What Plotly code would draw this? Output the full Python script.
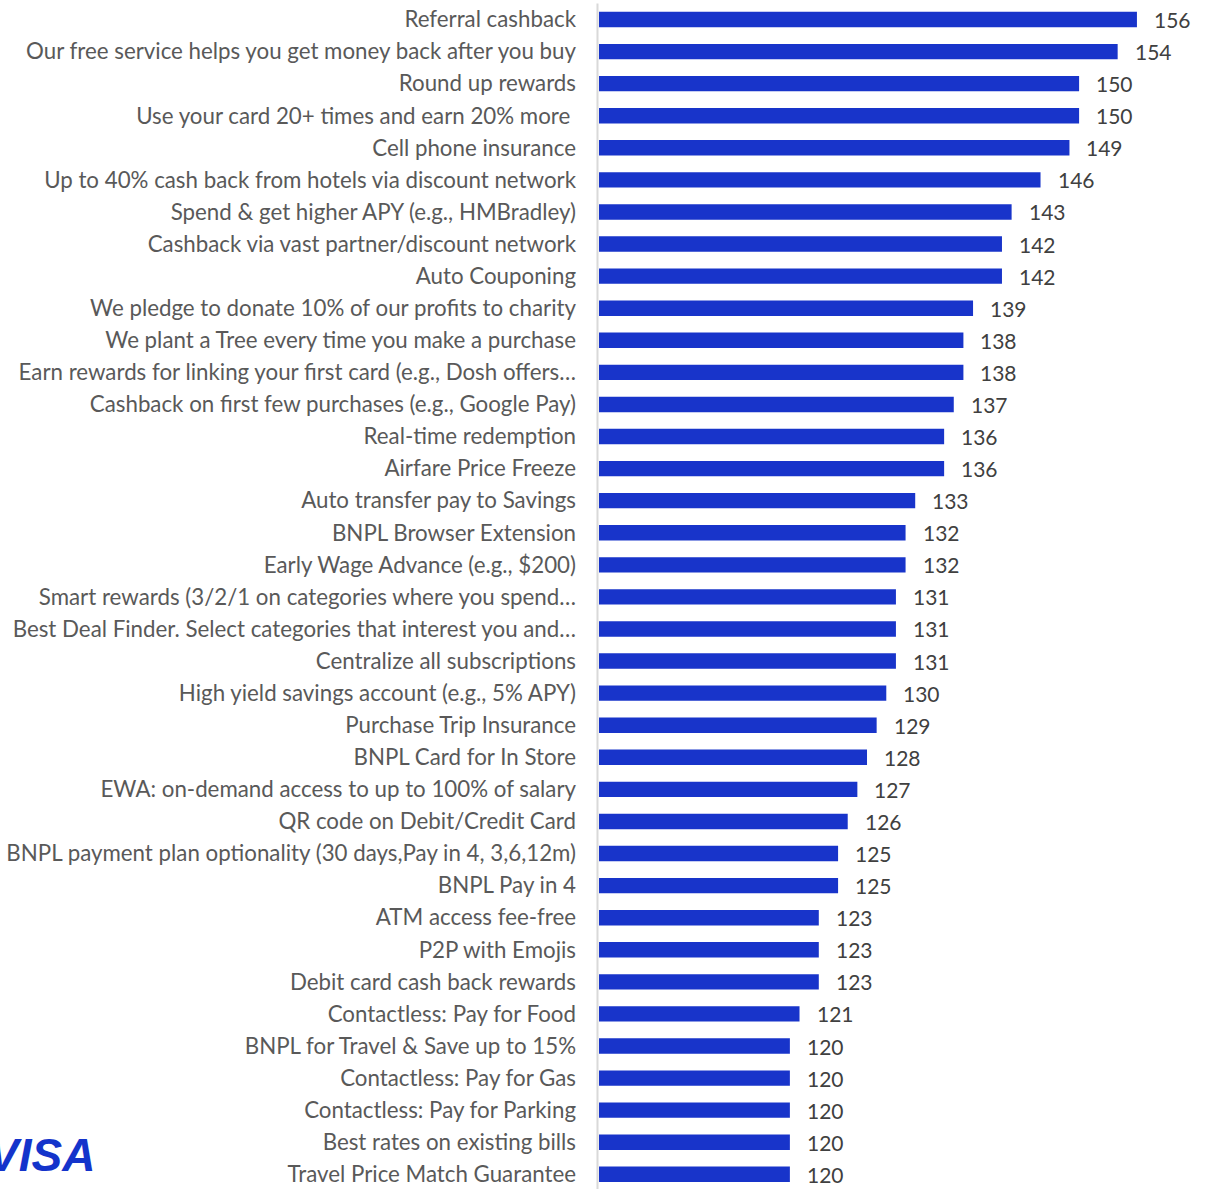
import plotly.graph_objects as go

# Feature ideas and their scores, listed top to bottom
features = [
    "Referral cashback",
    "Our free service helps you get money back after you buy",
    "Round up rewards",
    "Use your card 20+ times and earn 20% more\u00a0",
    "Cell phone insurance",
    "Up to 40% cash back from hotels via discount network",
    "Spend & get higher APY (e.g., HMBradley)",
    "Cashback via vast partner/discount network",
    "Auto Couponing",
    "We pledge to donate 10% of our profits to charity",
    "We plant a Tree every time you make a purchase",
    "Earn rewards for linking your first card (e.g., Dosh offers…",
    "Cashback on first few purchases (e.g., Google Pay)",
    "Real-time redemption",
    "Airfare Price Freeze",
    "Auto transfer pay to Savings",
    "BNPL Browser Extension",
    "Early Wage Advance (e.g., $200)",
    "Smart rewards (3/2/1 on categories where you spend…",
    "Best Deal Finder. Select categories that interest you and…",
    "Centralize all subscriptions",
    "High yield savings account (e.g., 5% APY)",
    "Purchase Trip Insurance",
    "BNPL Card for In Store",
    "EWA: on-demand access to up to 100% of salary",
    "QR code on Debit/Credit Card",
    "BNPL payment plan optionality (30 days,Pay in 4, 3,6,12m)",
    "BNPL Pay in 4",
    "ATM access fee-free",
    "P2P with Emojis",
    "Debit card cash back rewards",
    "Contactless: Pay for Food",
    "BNPL for Travel & Save up to 15%",
    "Contactless: Pay for Gas",
    "Contactless: Pay for Parking",
    "Best rates on existing bills",
    "Travel Price Match Guarantee",
]
scores = [156, 154, 150, 150, 149, 146, 143, 142, 142, 139, 138, 138, 137, 136, 136,
          133, 132, 132, 131, 131, 131, 130, 129, 128, 127, 126, 125, 125, 123, 123,
          123, 121, 120, 120, 120, 120, 120]

BAR_BLUE = "#1834CA"
FONT = "Lato"

fig = go.Figure(
    go.Bar(
        x=scores,
        y=features,
        orientation="h",
        marker=dict(color=BAR_BLUE, line=dict(width=0)),
        hoverinfo="skip",
    )
)

# value labels to the right of each bar
for name, val in zip(features, scores):
    fig.add_annotation(
        x=val, y=name, xref="x", yref="y",
        text=str(val), showarrow=False,
        xanchor="left", yanchor="middle", xshift=15,
        font=dict(family=FONT, size=21, color="#404040"),
    )

# thin category axis line
fig.add_shape(
    type="line", xref="paper", yref="y",
    x0=-0.0025, x1=-0.0025, y0=-0.5, y1=len(features),
    line=dict(color="#d9d9d9", width=2),
)

# brand mark in the lower left corner
fig.add_annotation(
    xref="paper", yref="paper", x=-0.8284, y=0.005,
    xanchor="right", yanchor="bottom",
    text="<b><i>VISA</i></b>", showarrow=False,
    font=dict(family="Liberation Sans", size=46, color="#1434CB"),
)

fig.update_layout(
    width=1205, height=1189,
    margin=dict(l=599, r=0, t=0, b=0),
    paper_bgcolor="white", plot_bgcolor="white",
    bargap=0.52,
    showlegend=False,
    xaxis=dict(range=[100.2, 163.06], visible=False, fixedrange=True),
    yaxis=dict(
        type="category",
        range=[36.458, -0.608],
        showgrid=False, showline=False, zeroline=False,
        ticks="", ticklabelstandoff=22,
        tickfont=dict(family=FONT, size=22.3, color="#595959"),
    ),
)

fig.write_html("out.html")
